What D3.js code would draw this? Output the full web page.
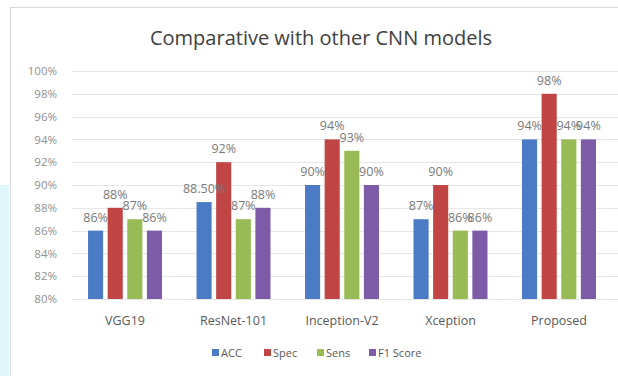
<!DOCTYPE html>
<html>
<head>
<meta charset="utf-8">
<script src="https://cdn.jsdelivr.net/npm/d3@7/dist/d3.min.js"></script>
<style>
  body { margin: 0; background: #fff; }
  svg text { font-family: "Open Sans", "Liberation Sans", sans-serif; }
</style>
</head>
<body>
<svg id="chart" width="618" height="376"></svg>
<script>
// chart data
var models = ["VGG19", "ResNet-101", "Inception-V2", "Xception", "Proposed"];
var seriesNames = ["ACC", "Spec", "Sens", "F1 Score"];
var acc  = [86, 88.5, 90, 87, 94];
var spec = [88, 92, 94, 90, 98];
var sens = [87, 87, 93, 86, 94];
var f1   = [86, 88, 90, 86, 94];
var accLabels  = ["86%", "88.50%", "90%", "87%", "94%"];
var specLabels = ["88%", "92%", "94%", "90%", "98%"];
var sensLabels = ["87%", "87%", "93%", "86%", "94%"];
var f1Labels   = ["86%", "88%", "90%", "86%", "94%"];
var yTicks = [80, 82, 84, 86, 88, 90, 92, 94, 96, 98, 100];

var colors = ["#4A7BC4", "#C24545", "#98BB55", "#7D5BA6"];
var values = [acc, spec, sens, f1];
var labels = [accLabels, specLabels, sensLabels, f1Labels];

var svg = d3.select("#chart");

// page decoration: cyan strip on the left and the chart frame
svg.append("rect").attr("x", 0).attr("y", 185).attr("width", 9).attr("height", 191)
   .attr("fill", "#dff6fb");
svg.append("rect").attr("x", 10.5).attr("y", 7.5).attr("width", 620).attr("height", 380)
   .attr("fill", "#fff").attr("stroke", "#d9d9d9");

// plot area (window.top is reserved, so plotTop)
var plotLeft = 71, plotRight = 613, plotTop = 71, plotBottom = 299;

var x0 = d3.scaleBand().domain(models).range([plotLeft, plotRight])
   .paddingInner(0.318).paddingOuter(0.157);
var x1 = d3.scaleBand().domain(seriesNames).range([0, x0.bandwidth()])
   .paddingInner(0.23).paddingOuter(0);
var y = d3.scaleLinear().domain([80, 100]).range([plotBottom, plotTop]);

// title
svg.append("text").attr("x", 321).attr("y", 45).attr("text-anchor", "middle")
   .attr("font-size", "20px").attr("fill", "#404040")
   .text("Comparative with other CNN models");

// gridlines
svg.append("g").selectAll("line").data(yTicks).join("line")
   .attr("x1", 72).attr("x2", 618)
   .attr("y1", function (d) { return Math.round(y(d)) + 0.5; })
   .attr("y2", function (d) { return Math.round(y(d)) + 0.5; })
   .attr("stroke", "#e6e6e6");

// y axis labels
var yAxis = d3.axisLeft(y).tickValues(yTicks).tickSize(0).tickPadding(0)
   .tickFormat(function (d) { return d + "%"; });
var ya = svg.append("g").attr("transform", "translate(57,0)").call(yAxis);
ya.select(".domain").remove();
ya.selectAll("text").attr("font-size", "11.5px").attr("fill", "#909090")
   .attr("font-family", "'Liberation Sans', sans-serif");

// bars
var groups = svg.append("g").selectAll("g").data(models).join("g")
   .attr("transform", function (d) { return "translate(" + x0(d) + ",0)"; });

seriesNames.forEach(function (s, si) {
  groups.append("rect")
     .attr("x", x1(s))
     .attr("width", x1.bandwidth())
     .attr("y", function (d, i) { return y(values[si][i]); })
     .attr("height", function (d, i) { return y(80) - y(values[si][i]); })
     .attr("fill", colors[si]);
});

seriesNames.forEach(function (s, si) {
  groups.append("text")
     .attr("x", x1(s) + x1.bandwidth() / 2)
     .attr("y", function (d, i) { return y(values[si][i]) - 9; })
     .attr("text-anchor", "middle")
     .attr("font-size", "12.5px").attr("fill", "#7a7a7a")
     .attr("font-family", "'Liberation Sans', sans-serif")
     .text(function (d, i) { return labels[si][i]; });
});

// category axis
var xAxis = d3.axisBottom(x0).tickSize(0).tickPadding(0);
var xa = svg.append("g").attr("transform", "translate(0," + (plotBottom + 17) + ")").call(xAxis);
xa.select(".domain").remove();
xa.selectAll("text").attr("font-size", "12.5px").attr("fill", "#595959");

// legend
var legendX = [212, 264, 317, 369];
var legend = svg.append("g").selectAll("g").data(seriesNames).join("g")
   .attr("transform", function (d, i) { return "translate(" + legendX[i] + ",348)"; });
legend.append("rect").attr("width", 7).attr("height", 7).attr("y", 1)
   .attr("fill", function (d, i) { return colors[i]; });
legend.append("text").attr("x", 9).attr("y", 9)
   .attr("font-size", "11px").attr("fill", "#595959")
   .text(function (d) { return d; });
</script>
</body>
</html>
